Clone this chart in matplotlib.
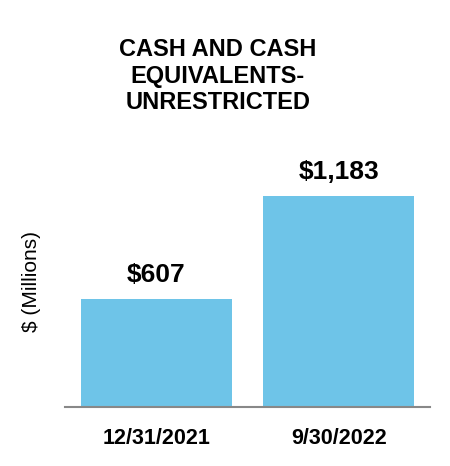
import matplotlib
matplotlib.use('Agg')
import matplotlib.pyplot as plt

plt.rcParams['font.family'] = ['Liberation Sans', 'DejaVu Sans']

categories = ['12/31/2021', '9/30/2022']
values = [607, 1183]
value_labels = ['$607', '$1,183']

fig = plt.figure(figsize=(4.5, 4.66), dpi=100)
ax = fig.add_axes([65 / 450, 59 / 466, 365 / 450, 250 / 466])

x = list(range(len(categories)))
ax.bar(x, values, width=0.83, color='#6EC4E8', zorder=2)
for xi, v, lab in zip(x, values, value_labels):
    ax.text(xi, v + 135, lab, ha='center', va='center', fontsize=19, fontweight='bold')

ax.set_xlim(-0.5, 1.5)
ax.set_ylim(0, 1400)
ax.set_xticks(x)
ax.set_xticklabels(categories, fontsize=15.5, fontweight='bold')
ax.tick_params(axis='x', length=0, pad=15)
ax.set_yticks([])
for s in ['top', 'right', 'left']:
    ax.spines[s].set_visible(False)
ax.spines['bottom'].set_color('#888888')
ax.spines['bottom'].set_linewidth(1.5)

ax.set_ylabel('$ (Millions)', fontsize=15)
ax.yaxis.set_label_coords(-0.066, 0.5)

fig.text(218 / 450, 1 - 76 / 466, 'CASH AND CASH\nEQUIVALENTS-\nUNRESTRICTED', ha='center', va='center',
         fontsize=17, fontweight='bold', linespacing=1.22)

fig.savefig('out.png', dpi=100)
